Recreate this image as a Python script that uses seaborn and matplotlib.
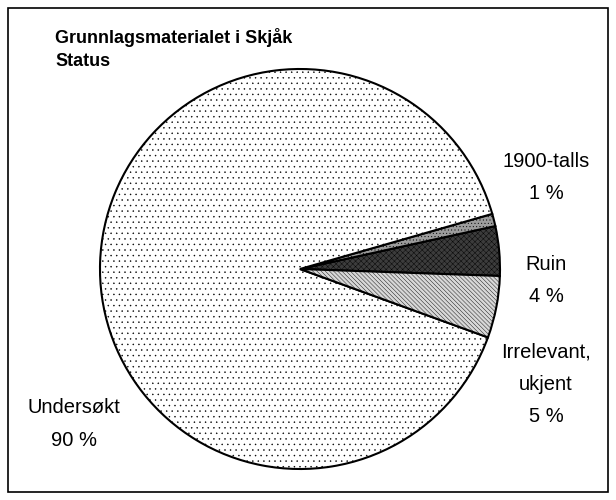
import matplotlib
matplotlib.use("Agg")
import matplotlib.pyplot as plt
from matplotlib.patches import Rectangle
import seaborn as sns

# data
categories = ["Ruin", "1900-talls", "Undersøkt", "Irrelevant,\nukjent"]
shares = [4, 1, 90, 5]
pct_labels = ["4 %", "1 %", "90 %", "5 %"]

sns.set_theme(style="white")
plt.rcParams['font.family'] = ['Liberation Sans', 'DejaVu Sans']
plt.rcParams['hatch.linewidth'] = 0.3

fig = plt.figure(figsize=(6.16, 5), dpi=100)
fig.patch.set_facecolor("white")
ax = fig.add_axes([0.1623, 0.062, 0.6494, 0.8])

faces = ["#3c3c3c", "#9c9c9c", "white", "#d8d8d8"]
hatches = ["xxxxxx", ".....", "...", "\\\\\\\\\\\\\\\\"]
hcolors = ["#111111", "#444444", "#555555", "#444444"]

wedges, _ = ax.pie(shares, startangle=-2, counterclock=True,
                   colors=faces, radius=1,
                   wedgeprops=dict(edgecolor="black", linewidth=1.5))
for w, h, hc in zip(wedges, hatches, hcolors):
    w.set_hatch(h)
    if hasattr(w, "set_hatchcolor"):
        w.set_hatchcolor(hc)

ax.set_xlim(-1, 1)
ax.set_ylim(-1, 1)
ax.set_aspect("equal")
ax.axis("off")

# outside labels
label_pos = [(1.23, -0.058), (1.23, 0.458), (-1.13, -0.775), (1.23, -0.575)]
for cat, pl, (x, y) in zip(categories, pct_labels, label_pos):
    ax.text(x, y, f"{cat}\n{pl}", ha="center", va="center", fontsize=14.5,
            linespacing=1.9, color="black")

fig.text(55 / 616, 1 - 49 / 500, "Grunnlagsmaterialet i Skjåk\nStatus",
         fontsize=13, fontweight="bold", ha="left", va="center",
         linespacing=1.45, color="black")

fig.add_artist(Rectangle((8 / 616, 8 / 500), 600 / 616, 484 / 500,
                         transform=fig.transFigure, fill=False,
                         edgecolor="black", linewidth=1.2))

fig.savefig("out.png", dpi=100)
